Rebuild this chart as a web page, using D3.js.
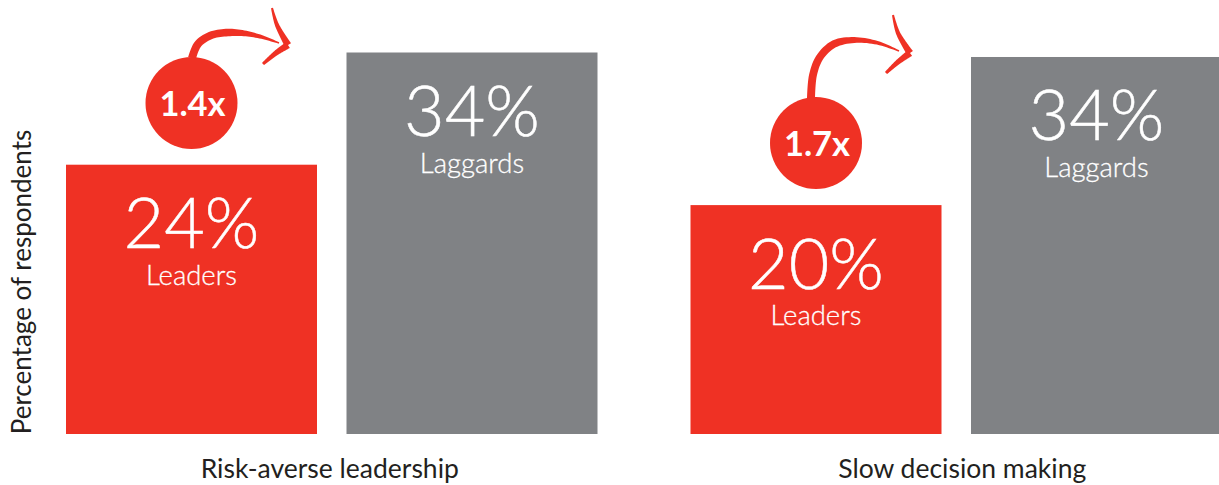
<!DOCTYPE html>
<html><head><meta charset="utf-8">
<script src="https://cdn.jsdelivr.net/npm/d3@7"></script>
<style>html,body{margin:0;padding:0;background:#fff;overflow:hidden}svg{display:block}text{font-family:Lato,"Open Sans",sans-serif}</style>
</head><body><svg id="c" width="1219" height="485"></svg>
<script>
const panels = ["Risk-averse leadership", "Slow decision making"];
const groups = ["Leaders", "Laggards"];
const plotted = [[24, 34], [20.4, 33.6]];
const valueLabels = [["24%", "34%"], ["20%", "34%"]];
const multipliers = ["1.4x", "1.7x"];
const axisTitle = "Percentage of respondents";
const RED = "#EF3124", GRAY = "#808285";

const svg = d3.select("#c");
const y = d3.scaleLinear().domain([0, 34]).range([434, 52.5]);
const x0 = d3.scaleBand().domain(panels).range([66, 1222]).paddingInner(93/624.5);
const x1 = d3.scaleBand().domain(groups).range([0, x0.bandwidth()]).paddingInner(29.5/280.5);

const badgeGeom = [
 {c:[191.5,103], stem:[[192,58],[198,44],[212,35],[235,32.5],[258,36],[279,43]], head:[[272,8],[277,25],[288,45],[276,53],[263,64]]},
 {c:[816,143], stem:[[811,98],[813,75],[820,57],[834,44],[855,40],[878,43],[899,51]], head:[[893,15],[898,33],[910,53],[898,62],[886,73]]}
];
const labelDx = [-2, 6];
const line = d3.line().curve(d3.curveCatmullRom.alpha(.5));
function brush(g, pts, w0, w1, wm){
  const p = g.append("path").attr("d", line(pts)).attr("fill","none").attr("stroke","none");
  const n = p.node(), L = n.getTotalLength(), N = 50, left=[], right=[];
  for(let i=0;i<=N;i++){
    const t=i/N, a=n.getPointAtLength(L*t), b=n.getPointAtLength(Math.min(L,L*t+.5)), c=n.getPointAtLength(Math.max(0,L*t-.5));
    const dx=b.x-c.x, dy=b.y-c.y, d=Math.hypot(dx,dy)||1;
    const w=(wm===undefined? w0+(w1-w0)*t : (t<.5? w0+(wm-w0)*t*2 : wm+(w1-wm)*(t-.5)*2))/2;
    left.push([a.x-dy/d*w,a.y+dx/d*w]); right.unshift([a.x+dy/d*w,a.y-dx/d*w]);
  }
  p.remove();
  g.append("path").attr("d", d3.line()(left.concat(right))+"Z").attr("fill",RED);
}

panels.forEach((pn,i)=>{
  const g = svg.append("g");
  groups.forEach((gr,j)=>{
    const bx = x0(pn)+x1(gr), v = plotted[i][j], top = y(v), cx = bx+x1.bandwidth()/2;
    g.append("rect").attr("x",bx).attr("y",top).attr("width",x1.bandwidth()).attr("height",y(0)-top)
      .attr("fill", j===0?RED:GRAY);
    g.append("text").attr("x",cx).attr("y",top+83.5).attr("text-anchor","middle").attr("fill","#fff")
      .attr("font-size",70).attr("font-weight",300).attr("stroke","#fff").attr("stroke-width",.5).text(valueLabels[i][j]);
    g.append("text").attr("x",cx).attr("y",top+120).attr("text-anchor","middle").attr("fill","#fff")
      .attr("font-size",27.5).attr("font-weight",300).attr("stroke","#fff").attr("stroke-width",.3).text(gr);
  });
  g.append("text").attr("x",x0(pn)+x0.bandwidth()/2+labelDx[i]).attr("y",478).attr("text-anchor","middle")
    .attr("fill","#231f20").attr("font-size",26.5).attr("font-weight",400).text(pn);
  const b = badgeGeom[i];
  brush(g,b.stem,8,1.5,7.5);
  brush(g,b.head.slice(0,3),2,7);
  brush(g,b.head.slice(2),7,3);
  g.append("circle").attr("cx",b.c[0]).attr("cy",b.c[1]).attr("r",46).attr("fill",RED);
  g.append("text").attr("x",b.c[0]+1).attr("y",b.c[1]+13).attr("text-anchor","middle").attr("fill","#fff")
    .attr("font-size",34.5).attr("font-weight",700).text(multipliers[i]);
});
svg.append("text").attr("transform","translate(31,282) rotate(-90)").attr("text-anchor","middle")
  .attr("fill","#231f20").attr("font-size",26).text(axisTitle);
</script></body></html>
